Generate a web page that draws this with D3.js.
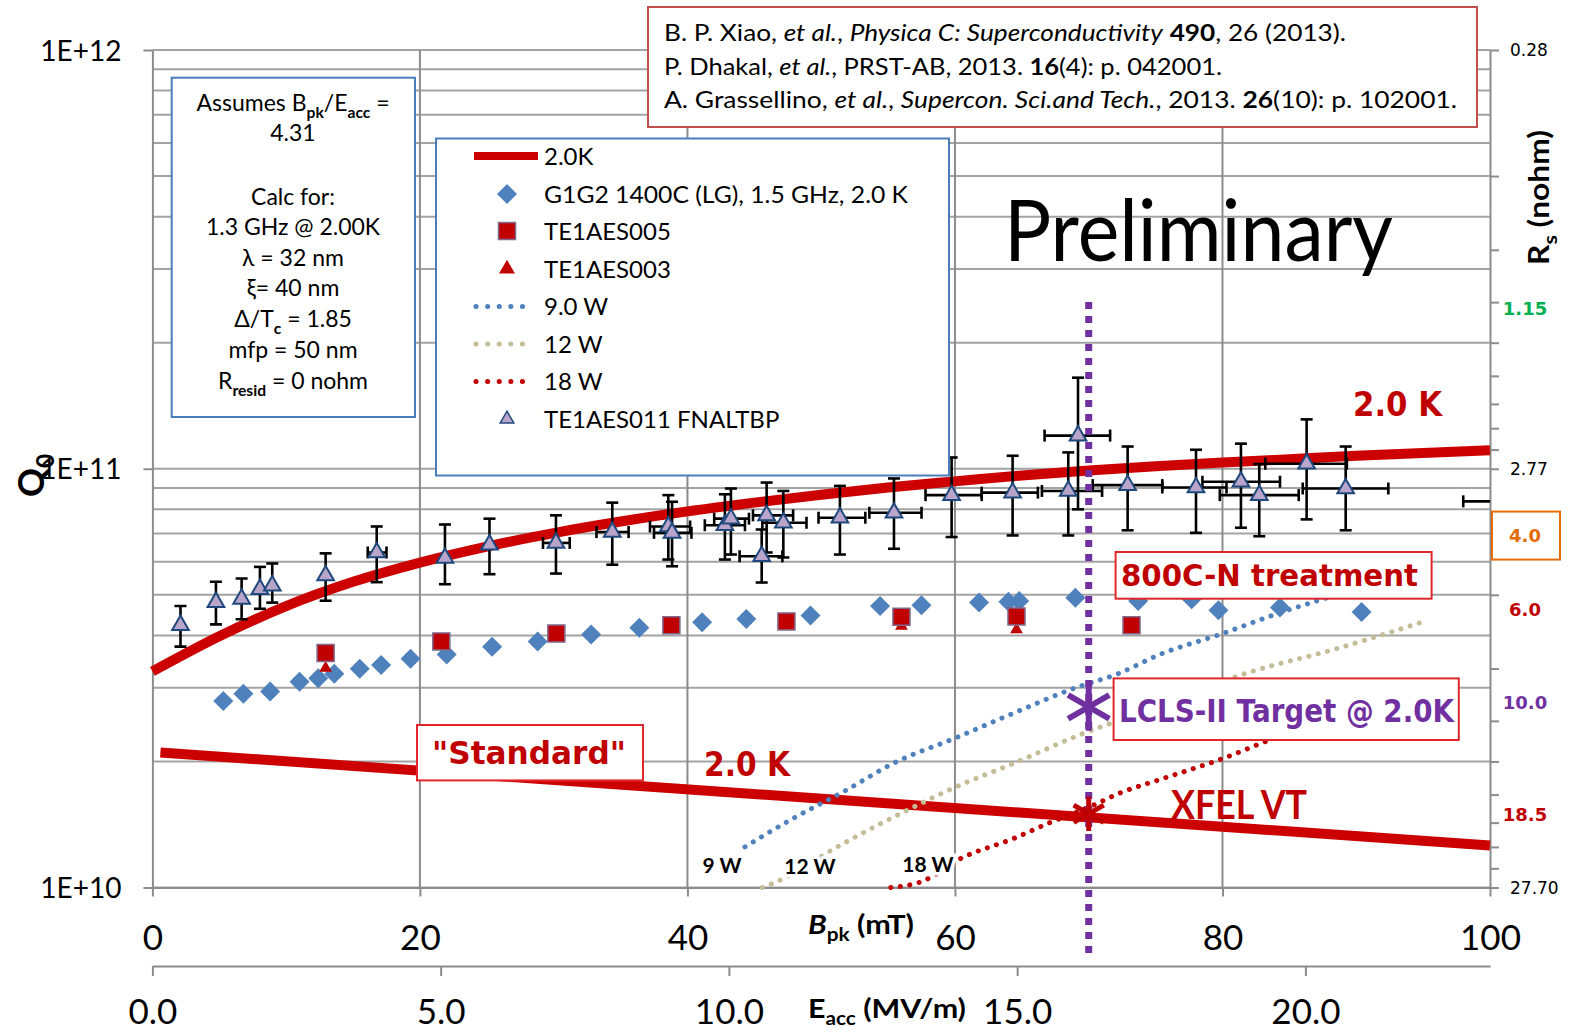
<!DOCTYPE html>
<html>
<head>
<meta charset="utf-8">
<title>Q0 vs Bpk</title>
<script src="https://cdn.jsdelivr.net/npm/d3@7"></script>
<style>
  body { margin: 0; background: #fff; }
  svg { display: block; }
  text { font-family: Lato, "Open Sans", sans-serif; fill: #000; }
  .wide { font-family: "DejaVu Sans", Verdana, sans-serif; }
</style>
</head>
<body>
<svg id="chart" width="1583" height="1032"></svg>
<script>
// ---- values ----
const bTicks = [0, 20, 40, 60, 80, 100];
const eTicks = [0, 5, 10, 15, 20];
const qTicks = [1e10, 1e11, 1e12];
const qTickLabels = ["1E+10", "1E+11", "1E+12"];
const rsLabelValues = [0.277, 1.15, 2.77, 4.0, 6.0, 10.0, 18.5, 27.7];
const rsLabelText = ["0.28", "1.15", "2.77", "4.0", "6.0", "10.0", "18.5", "27.70"];
const bpkPerEacc = 4.31;
const geomFactor = 277; // ohm, Rs = G / Q

// 2.0K model curve (upper)
const modelB = [0, 5, 10, 15, 20, 25, 30, 35, 40, 45, 50, 55, 60, 65, 70, 75, 80, 85, 90, 95, 100];
const modelQ = [3.28e10, 3.98e10, 4.70e10, 5.37e10, 5.97e10, 6.52e10, 7.02e10, 7.48e10, 7.91e10, 8.30e10,
  8.67e10, 9.02e10, 9.33e10, 9.64e10, 9.91e10, 1.014e11, 1.035e11, 1.054e11, 1.074e11, 1.091e11, 1.107e11];

// "Standard" 2.0 K
const stdB = [0.6, 100];
const stdQ = [2.10e10, 1.26e10];

// G1G2 1400C (LG), 1.5 GHz, 2.0 K
const g1g2B = [5.3, 6.8, 8.8, 11.0, 12.4, 13.6, 15.5, 17.1, 19.3, 22.0, 25.4, 28.8, 32.8, 36.4, 41.1, 44.4,
  49.2, 54.4, 57.5, 61.8, 64.0, 64.8, 69.0, 73.7, 77.7, 79.7, 84.3, 90.4];
const g1g2Q = [2.79e10, 2.90e10, 2.94e10, 3.10e10, 3.16e10, 3.24e10, 3.33e10, 3.40e10, 3.52e10, 3.60e10, 3.76e10,
  3.87e10, 4.02e10, 4.17e10, 4.30e10, 4.38e10, 4.46e10, 4.70e10, 4.72e10, 4.79e10, 4.81e10, 4.83e10, 4.92e10,
  4.83e10, 4.88e10, 4.59e10, 4.66e10, 4.55e10];

// TE1AES005
const aes005B = [12.95, 21.6, 30.2, 38.8, 47.4, 56.0, 64.6, 73.2];
const aes005Q = [3.63e10, 3.87e10, 4.04e10, 4.23e10, 4.32e10, 4.43e10, 4.44e10, 4.23e10];

// TE1AES003
const aes003B = [12.95, 56.0, 64.6];
const aes003Q = [3.34e10, 4.21e10, 4.13e10];

// TE1AES011 FNALTBP with error bars (null = no horizontal bar)
const tbpB = [2.1, 4.75, 6.67, 8.04, 8.96, 12.95, 16.77, 21.87, 25.2, 30.17, 34.38, 38.57, 38.85, 42.8, 43.25,
  45.92, 45.55, 47.17, 51.4, 55.44, 59.75, 64.31, 68.47, 69.2, 72.91, 78.02, 81.38, 82.75, 86.29, 89.21, 102];
const tbpQ = [4.23e10, 4.80e10, 4.89e10, 5.16e10, 5.26e10, 5.56e10, 6.31e10, 6.12e10, 6.59e10, 6.65e10, 7.06e10,
  7.28e10, 7.03e10, 7.33e10, 7.60e10, 7.74e10, 6.18e10, 7.43e10, 7.64e10, 7.85e10, 8.65e10, 8.77e10, 8.85e10,
  1.20e11, 9.14e10, 9.02e10, 9.31e10, 8.65e10, 1.028e11, 8.97e10, 8.36e10];
const tbpQlo = [3.76e10, 4.25e10, 4.37e10, 4.63e10, 4.79e10, 4.84e10, 5.36e10, 5.30e10, 5.60e10, 5.62e10, 5.90e10,
  6.07e10, 5.85e10, 6.07e10, 6.24e10, 6.31e10, 5.35e10, 6.14e10, 6.24e10, 6.44e10, 6.87e10, 6.93e10, 6.93e10,
  8.0e10, 7.13e10, 7.03e10, 7.23e10, 6.90e10, 7.57e10, 7.13e10, 8.36e10];
const tbpQhi = [4.70e10, 5.37e10, 5.47e10, 5.83e10, 5.94e10, 6.28e10, 7.28e10, 7.36e10, 7.60e10, 7.74e10, 8.30e10,
  8.65e10, 8.34e10, 8.69e10, 8.97e10, 9.27e10, 7.16e10, 8.85e10, 9.10e10, 9.48e10, 1.064e11, 1.074e11, 1.094e11,
  1.65e11, 1.13e11, 1.11e11, 1.148e11, 1.026e11, 1.312e11, 1.13e11, 8.36e10];
const tbpBlo = [null, null, null, null, null, null, 16.1, null, null, 29.2, 33.2, 37.2, 37.5, 41.3, 42.0,
  44.9, 43.9, 45.6, 49.8, 53.6, 57.8, 62.0, 66.5, 66.7, 70.3, 75.5, 78.5, 79.8, 83.2, 86.0, 98.0];
const tbpBhi = [null, null, null, null, null, null, 17.5, null, null, 31.2, 35.6, 40.2, 40.3, 44.3, 44.6,
  47.9, 47.1, 48.9, 53.3, 57.5, 62.0, 66.2, 71.0, 71.6, 75.5, 80.3, 84.3, 85.7, 89.3, 92.4, 106];

// constant-heat-load curves
const w9B = [44.3, 47.7, 51.9, 55.4, 60.1, 64.4, 68.9, 72.3, 75.3, 79.8, 84.3, 88.3, 92.0];
const w9Q = [1.25e10, 1.45e10, 1.71e10, 1.98e10, 2.28e10, 2.61e10, 2.99e10, 3.25e10, 3.60e10, 4.02e10, 4.53e10, 4.97e10, 5.37e10];
const w12B = [45.6, 46.9, 51.2, 55.9, 60.1, 64.4, 69.4, 75.0, 81.8, 88.3, 94.8];
const w12Q = [1.0e10, 1.04e10, 1.25e10, 1.50e10, 1.74e10, 1.98e10, 2.32e10, 2.69e10, 3.25e10, 3.70e10, 4.29e10];
const w18B = [55.2, 57.4, 60.6, 64.4, 66.9, 70.3, 72.3, 75.3, 79.8, 84.3, 90.0];
const w18Q = [1.0e10, 1.03e10, 1.18e10, 1.31e10, 1.42e10, 1.57e10, 1.68e10, 1.81e10, 2.02e10, 2.30e10, 2.63e10];

// LCLS-II target and XFEL VT points
const targetB = 70;
const lclsQ = 2.7e10;
const xfelQ = 1.5e10;

// ---- layout ----
const svg = d3.select("#chart");
const plot = { left: 152.4, right: 1490, top: 50, bottom: 887.5 };
const darkRed = "#c00000", lineRed = "#cc0000", purple = "#7030a0", boxBlue = "#4a7ebb", boxRed = "#e0262b";

const x = d3.scaleLinear().domain([0, 100]).range([plot.left, plot.right]);
const xE = d3.scaleLinear().domain([0, 100 / bpkPerEacc]).range([plot.left, plot.right]);
const y = d3.scaleLog().domain([1e10, 1e12]).range([plot.bottom, plot.top]);
const yRs = d3.scaleLog().domain([geomFactor / 1e12 * 1e9, geomFactor / 1e10 * 1e9]).range([plot.top, plot.bottom]);

// text helper: segments [text, style] with style "", "i", "b", "bi", "sub"
function rich(sel, segs, fs) {
  let shift = 0;
  segs.forEach(([t, st]) => {
    const sp = sel.append("tspan").text(t);
    const want = st === "sub" ? fs * 0.28 : 0;
    if (want !== shift) { sp.attr("dy", want - shift); shift = want; }
    if (st === "sub") sp.attr("font-size", fs * 0.68);
    if (st && st.includes("i")) sp.attr("font-style", "italic");
    if (st && st.includes("b")) sp.attr("font-weight", "bold");
  });
  return sel;
}

// ---- grid ----
const grid = svg.append("g");
grid.selectAll("line.h").data(y.ticks()).join("line")
  .attr("x1", plot.left).attr("x2", plot.right)
  .attr("y1", d => y(d)).attr("y2", d => y(d))
  .attr("stroke", "#a3a3a3").attr("stroke-width", 2);
grid.selectAll("line.v").data(bTicks.slice(1, -1)).join("line")
  .attr("x1", d => x(d)).attr("x2", d => x(d))
  .attr("y1", plot.top).attr("y2", plot.bottom)
  .attr("stroke", "#8c8c8c").attr("stroke-width", 2);

// ---- axes ----
function styleAxis(g) {
  g.selectAll("path.domain").attr("stroke", "#8c8c8c").attr("stroke-width", 2);
  g.selectAll(".tick line").attr("stroke", "#8c8c8c").attr("stroke-width", 2);
}
const yAxis = svg.append("g").attr("transform", `translate(${plot.left},0)`)
  .call(d3.axisLeft(y).tickValues(qTicks).tickSize(9).tickSizeOuter(0).tickPadding(22)
    .tickFormat((d, i) => qTickLabels[i]));
styleAxis(yAxis);
yAxis.selectAll("text").attr("font-family", "Lato").attr("font-size", 28).attr("dy", "0.36em");

const xAxis = svg.append("g").attr("transform", `translate(0,${plot.bottom})`)
  .call(d3.axisBottom(x).tickValues(bTicks).tickSize(9).tickSizeOuter(0));
styleAxis(xAxis);
xAxis.selectAll("text").attr("font-family", "Lato").attr("font-size", 35).attr("y", 50).attr("dy", "0.36em");

const eAxis = svg.append("g").attr("transform", "translate(0,966)")
  .call(d3.axisBottom(xE).tickValues(eTicks).tickSize(10).tickSizeOuter(0).tickFormat(d3.format(".1f")));
styleAxis(eAxis);
eAxis.selectAll("text").attr("font-family", "Lato").attr("font-size", 35).attr("y", 45).attr("dy", "0.36em");

const rsMinor = [];
[0.277, 2.77].forEach(dec => d3.range(1, 10).forEach(n => rsMinor.push(dec * n)));
rsMinor.push(27.7);
const rAxis = svg.append("g").attr("transform", `translate(${plot.right},0)`)
  .call(d3.axisRight(yRs).tickValues(rsMinor).tickSize(9).tickSizeOuter(0).tickFormat(""));
styleAxis(rAxis);

// right-hand Rs labels
const rsStyle = {
  "0.28": { c: "#000", b: false }, "1.15": { c: "#00b050", b: true }, "2.77": { c: "#000", b: false },
  "4.0": { c: "#e46c0a", b: true }, "6.0": { c: darkRed, b: true }, "10.0": { c: purple, b: true },
  "18.5": { c: darkRed, b: true }, "27.70": { c: "#000", b: false }
};
const rsG = svg.append("g");
rsLabelValues.forEach((v, i) => {
  const lab = rsLabelText[i], st = rsStyle[lab];
  if (lab === "4.0") {
    rsG.append("rect").attr("x", 1492).attr("y", yRs(v) - 24).attr("width", 68).attr("height", 48)
      .attr("fill", "#fff").attr("stroke", "#e46c0a").attr("stroke-width", 2);
  }
  rsG.append("text").attr("class", "wide")
    .attr("x", st.b ? 1525 : 1510).attr("y", yRs(v)).attr("dy", "0.36em")
    .attr("text-anchor", st.b ? "middle" : "start")
    .attr("font-size", st.b ? 18 : 17).attr("font-weight", st.b ? "bold" : "normal")
    .style("fill", st.c).text(lab);
});

// axis titles
rich(svg.append("text").attr("x", 808).attr("y", 924).attr("dy", "0.36em").attr("font-size", 27)
  .attr("font-weight", "bold").attr("textLength", 106).attr("lengthAdjust", "spacingAndGlyphs"),
  [["B", "bi"], ["pk", "sub"], [" (mT)", "b"]], 27);
rich(svg.append("text").attr("x", 808).attr("y", 1008).attr("dy", "0.36em").attr("font-size", 27)
  .attr("font-weight", "bold").attr("textLength", 158).attr("lengthAdjust", "spacingAndGlyphs"),
  [["E", "b"], ["acc", "sub"], [" (MV/m)", "b"]], 27);
rich(svg.append("text").attr("transform", "translate(44,497) rotate(-90)").attr("font-size", 36)
  .attr("font-weight", "bold"), [["Q", "b"], ["0", "sub"]], 36);
rich(svg.append("text").attr("transform", "translate(1549,265) rotate(-90)").attr("font-size", 28)
  .attr("font-weight", "bold").attr("textLength", 135).attr("lengthAdjust", "spacingAndGlyphs"),
  [["R", "b"], ["s", "sub"], [" (nohm)", "b"]], 28);

// ---- curves ----
const line = d3.line().x(d => x(d[0])).y(d => y(d[1])).curve(d3.curveMonotoneX);
const curves = svg.append("g").attr("fill", "none");
curves.append("path").datum(d3.zip(stdB, stdQ)).attr("d", line)
  .attr("stroke", lineRed).attr("stroke-width", 10);

const dotted = [[w9B, w9Q, "#4f81bd"], [w12B, w12Q, "#c4bd97"], [w18B, w18Q, darkRed]];
dotted.forEach(([bs, qs, c]) => {
  curves.append("path").datum(d3.zip(bs, qs)).attr("d", line)
    .attr("stroke", c).attr("stroke-width", 5).attr("stroke-linecap", "round")
    .attr("stroke-dasharray", "0.1 9.5");
});

// ---- markers ----
const diamond = d3.symbol(d3.symbolSquare, 200);
const square = d3.symbol(d3.symbolSquare, 290);
const triSmall = d3.symbol(d3.symbolTriangle, 70);
const triTbp = d3.symbol(d3.symbolTriangle, 120);

svg.append("g").selectAll("path").data(d3.zip(g1g2B, g1g2Q)).join("path")
  .attr("d", diamond).attr("transform", d => `translate(${x(d[0])},${y(d[1])}) rotate(45)`)
  .attr("fill", "#4f81bd");
svg.append("g").selectAll("path").data(d3.zip(aes003B, aes003Q)).join("path")
  .attr("d", triSmall).attr("transform", d => `translate(${x(d[0])},${y(d[1])})`)
  .attr("fill", darkRed);
svg.append("g").selectAll("path").data(d3.zip(aes005B, aes005Q)).join("path")
  .attr("d", square).attr("transform", d => `translate(${x(d[0])},${y(d[1])})`)
  .attr("fill", darkRed).attr("stroke", "#7f6a8f").attr("stroke-width", 1.5);

// TE1AES011 error bars
svg.append("clipPath").attr("id", "plotclip").append("rect")
  .attr("x", plot.left).attr("y", plot.top).attr("width", plot.right - plot.left).attr("height", plot.bottom - plot.top);
const tbp = tbpB.map((b, i) => ({ b, q: tbpQ[i], lo: tbpQlo[i], hi: tbpQhi[i], bl: tbpBlo[i], bh: tbpBhi[i] }));
const eb = svg.append("g").attr("clip-path", "url(#plotclip)").attr("stroke", "#000").attr("stroke-width", 2.6);
tbp.forEach(d => {
  const cx = x(d.b), cy = y(d.q);
  if (d.hi > d.lo) {
    eb.append("line").attr("x1", cx).attr("x2", cx).attr("y1", y(d.lo)).attr("y2", y(d.hi));
    eb.append("line").attr("x1", cx - 6).attr("x2", cx + 6).attr("y1", y(d.lo)).attr("y2", y(d.lo));
    eb.append("line").attr("x1", cx - 6).attr("x2", cx + 6).attr("y1", y(d.hi)).attr("y2", y(d.hi));
  }
  if (d.bl !== null) {
    eb.append("line").attr("x1", x(d.bl)).attr("x2", x(d.bh)).attr("y1", cy).attr("y2", cy);
    eb.append("line").attr("x1", x(d.bl)).attr("x2", x(d.bl)).attr("y1", cy - 6).attr("y2", cy + 6);
    eb.append("line").attr("x1", x(d.bh)).attr("x2", x(d.bh)).attr("y1", cy - 6).attr("y2", cy + 6);
  }
});

// 2.0K model curve
curves.append("path").datum(d3.zip(modelB, modelQ)).attr("d", line)
  .attr("stroke", lineRed).attr("stroke-width", 10);
svg.append("g").attr("clip-path", "url(#plotclip)").selectAll("path").data(tbp).join("path")
  .attr("d", triTbp).attr("transform", d => `translate(${x(d.b)},${y(d.q)})`)
  .attr("fill", "#b9a5c9").attr("stroke", "#1f497d").attr("stroke-width", 2);

// LCLS-II target line
svg.append("line").attr("x1", x(targetB)).attr("x2", x(targetB))
  .attr("y1", y(2.5e11)).attr("y2", 954)
  .attr("stroke", purple).attr("stroke-width", 7).attr("stroke-dasharray", "7 7");

// ---- text boxes ----
function box(x0, y0, w, h, stroke) {
  return svg.append("rect").attr("x", x0).attr("y", y0).attr("width", w).attr("height", h)
    .attr("fill", "#fff").attr("stroke", stroke).attr("stroke-width", 2);
}

// references
box(648, 7, 829, 120, "#c0504d");
const refLines = [
  [["B. P. Xiao, ", ""], ["et al.", "i"], [", ", ""], ["Physica C: Superconductivity", "i"], [" ", ""], ["490", "b"], [", 26 (2013).", ""]],
  [["P. Dhakal, ", ""], ["et al.", "i"], [", PRST-AB, 2013. ", ""], ["16", "b"], ["(4): p. 042001.", ""]],
  [["A. Grassellino, ", ""], ["et al.", "i"], [", ", ""], ["Supercon. Sci.and Tech.", "i"], [", 2013. ", ""], ["26", "b"], ["(10): p. 102001.", ""]]
];
const refW = [682, 558, 793];
refLines.forEach((segs, i) => {
  rich(svg.append("text").attr("x", 664).attr("y", 33 + i * 33.5).attr("dy", "0.36em").attr("font-size", 23)
    .attr("textLength", refW[i]).attr("lengthAdjust", "spacingAndGlyphs"), segs, 23);
});

// assumptions box
box(171.7, 77.7, 243.3, 339.3, boxBlue);
const infoLines = [
  [[["Assumes B", ""], ["pk", "sub"], ["/E", ""], ["acc", "sub"], [" =", ""]], 103],
  [[["4.31", ""]], 133],
  [[["Calc for:", ""]], 197],
  [[["1.3 GHz @ 2.00K", ""]], 227],
  [[["λ = 32 nm", ""]], 258],
  [[["ξ= 40 nm", ""]], 288],
  [[["Δ/T", ""], ["c", "sub"], [" = 1.85", ""]], 319],
  [[["mfp = 50 nm", ""]], 350],
  [[["R", ""], ["resid", "sub"], [" = 0 nohm", ""]], 381]
];
infoLines.forEach(([segs, ty]) => {
  rich(svg.append("text").attr("x", 293).attr("y", ty).attr("dy", "0.36em").attr("text-anchor", "middle")
    .attr("font-size", 23), segs, 23);
});

// legend
box(436, 138.5, 513, 337, boxBlue);
const legendLabels = ["2.0K", "G1G2 1400C (LG), 1.5 GHz, 2.0 K", "TE1AES005", "TE1AES003", "9.0 W", "12 W", "18 W", "TE1AES011 FNALTBP"];
const legendY = [156, 194, 231, 269, 306.5, 344, 381.5, 419];
const lg = svg.append("g");
legendLabels.forEach((lab, i) => {
  const t = lg.append("text").attr("x", 544).attr("y", legendY[i]).attr("dy", "0.36em").attr("font-size", 24).text(lab);
  if (i === 1) t.attr("textLength", 364).attr("lengthAdjust", "spacingAndGlyphs");
});
lg.append("line").attr("x1", 474).attr("x2", 538).attr("y1", legendY[0]).attr("y2", legendY[0])
  .attr("stroke", lineRed).attr("stroke-width", 8);
lg.append("path").attr("d", diamond).attr("transform", `translate(507,${legendY[1]}) rotate(45)`).attr("fill", "#4f81bd");
lg.append("path").attr("d", square).attr("transform", `translate(507,${legendY[2]})`)
  .attr("fill", darkRed).attr("stroke", "#7f6a8f").attr("stroke-width", 1.5);
lg.append("path").attr("d", d3.symbol(d3.symbolTriangle, 110)).attr("transform", `translate(507,${legendY[3]})`).attr("fill", darkRed);
dotted.forEach(([, , c], i) => {
  lg.append("line").attr("x1", 476).attr("x2", 534).attr("y1", legendY[4 + i]).attr("y2", legendY[4 + i])
    .attr("stroke", c).attr("stroke-width", 5).attr("stroke-linecap", "round").attr("stroke-dasharray", "0.1 11.5");
});
lg.append("path").attr("d", d3.symbol(d3.symbolTriangle, 80)).attr("transform", `translate(507,${legendY[7]})`)
  .attr("fill", "#b9a5c9").attr("stroke", "#1f497d").attr("stroke-width", 1.5);

// annotations
svg.append("text").attr("x", 1004).attr("y", 261).attr("font-size", 86)
  .attr("textLength", 389).attr("lengthAdjust", "spacingAndGlyphs").text("Preliminary");
svg.append("text").attr("class", "wide").attr("font-weight", "bold").attr("x", 1353).attr("y", 404).attr("dy", "0.36em")
  .attr("font-size", 33).style("fill", darkRed).attr("textLength", 89).attr("lengthAdjust", "spacingAndGlyphs").text("2.0 K");
svg.append("text").attr("class", "wide").attr("font-weight", "bold").attr("x", 704).attr("y", 764).attr("dy", "0.36em")
  .attr("font-size", 33).style("fill", darkRed).attr("textLength", 86).attr("lengthAdjust", "spacingAndGlyphs").text("2.0 K");

box(1115.6, 552, 316, 46.7, boxRed);
svg.append("text").attr("class", "wide").attr("font-weight", "bold").attr("x", 1121).attr("y", 575.5).attr("dy", "0.36em")
  .attr("font-size", 30).style("fill", darkRed).attr("textLength", 297).attr("lengthAdjust", "spacingAndGlyphs")
  .text("800C-N treatment");

box(1113.6, 678.4, 345.2, 61.6, boxRed);
svg.append("text").attr("class", "wide").attr("font-weight", "bold").attr("x", 1119).attr("y", 710).attr("dy", "0.36em")
  .attr("font-size", 32).style("fill", purple).attr("textLength", 335).attr("lengthAdjust", "spacingAndGlyphs")
  .text("LCLS-II Target @ 2.0K");

box(417, 725, 226, 55.4, boxRed);
svg.append("text").attr("class", "wide").attr("font-weight", "bold").attr("x", 432).attr("y", 752).attr("dy", "0.36em")
  .attr("font-size", 32).style("fill", darkRed).attr("textLength", 194).attr("lengthAdjust", "spacingAndGlyphs")
  .text("\"Standard\"");

svg.append("text").attr("x", 1171).attr("y", 805).attr("dy", "0.36em").attr("font-size", 40).attr("font-weight", "bold")
  .style("fill", darkRed).attr("textLength", 136).attr("lengthAdjust", "spacingAndGlyphs").text("XFEL VT");

// heat-load labels
[["9 W", 722, 865], ["12 W", 810, 866], ["18 W", 928, 864]].forEach(([t, tx, ty]) => {
  svg.append("text").attr("x", tx).attr("y", ty).attr("dy", "0.36em").attr("text-anchor", "middle")
    .attr("font-size", 21).attr("font-weight", "bold")
    .attr("stroke", "#fff").attr("stroke-width", 7).attr("paint-order", "stroke").text(t);
});

// target / XFEL asterisks
svg.append("path").attr("d", d3.symbol(d3.symbolAsterisk, 1600))
  .attr("transform", `translate(${x(targetB)},${y(lclsQ)})`)
  .attr("fill", "none").attr("stroke", purple).attr("stroke-width", 6);
svg.append("path").attr("d", d3.symbol(d3.symbolAsterisk, 850))
  .attr("transform", `translate(${x(targetB)},${y(xfelQ)})`)
  .attr("fill", "none").attr("stroke", darkRed).attr("stroke-width", 5);
</script>
</body>
</html>
